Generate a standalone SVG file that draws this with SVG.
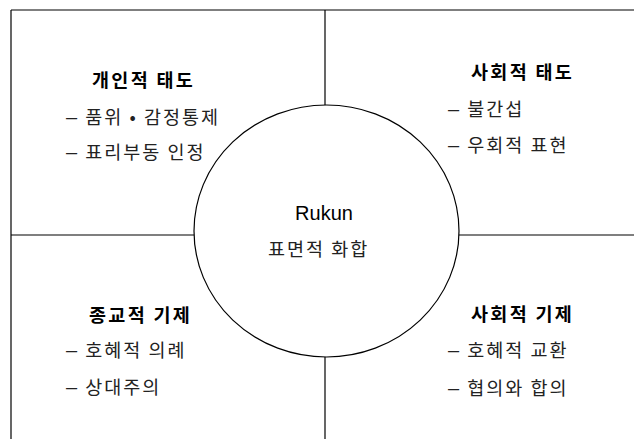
<svg xmlns="http://www.w3.org/2000/svg" width="634" height="439" viewBox="0 0 634 439">
<style>
.ln{stroke:#000;stroke-width:1.2;fill:none}
.t{font-family:"Noto Sans CJK KR","Liberation Sans",sans-serif;font-size:18.5px;font-weight:bold;fill:#000;letter-spacing:2.3px}
.i{font-family:"Noto Sans CJK KR","Liberation Sans",sans-serif;font-size:18.5px;fill:#222;letter-spacing:2px}
.d{font-family:"Liberation Sans",sans-serif;font-size:20px}
.r{font-family:"Liberation Sans","Noto Sans CJK KR",sans-serif;font-size:20px;fill:#000}
</style>
<rect width="634" height="439" fill="#fff"/>
<g id="connectors">
<line class="ln" x1="11" y1="10" x2="634" y2="10"/>
<line class="ln" x1="11" y1="10" x2="11" y2="439"/>
<line class="ln" x1="325" y1="10" x2="325" y2="105"/>
<line class="ln" x1="325" y1="357" x2="325" y2="439"/>
<line class="ln" x1="11" y1="235" x2="194" y2="235"/>
<line class="ln" x1="459" y1="235" x2="634" y2="235"/>
</g>
<g id="center">
<ellipse class="ln" cx="326.5" cy="231" rx="132.5" ry="126"/>
<text class="r" x="324" y="220" text-anchor="middle">Rukun</text>
<text class="i" x="268" y="256">표면적 화합</text>
</g>
<g id="personal">
<text class="t" x="92" y="87">개인적 태도</text>
<text class="i" x="66" y="124"><tspan class="d">–</tspan> 품위 • 감정통제</text>
<text class="i" x="66" y="159"><tspan class="d">–</tspan> 표리부동 인정</text>
</g>
<g id="social-attitude">
<text class="t" x="471" y="79">사회적 태도</text>
<text class="i" x="448" y="116"><tspan class="d">–</tspan> 불간섭</text>
<text class="i" x="448" y="152"><tspan class="d">–</tspan> 우회적 표현</text>
</g>
<g id="religious">
<text class="t" x="89" y="322">종교적 기제</text>
<text class="i" x="66" y="357"><tspan class="d">–</tspan> 호혜적 의례</text>
<text class="i" x="66" y="394"><tspan class="d">–</tspan> 상대주의</text>
</g>
<g id="social-mechanism">
<text class="t" x="471" y="321">사회적 기제</text>
<text class="i" x="448" y="357"><tspan class="d">–</tspan> 호혜적 교환</text>
<text class="i" x="448" y="395"><tspan class="d">–</tspan> 협의와 합의</text>
</g>
</svg>
